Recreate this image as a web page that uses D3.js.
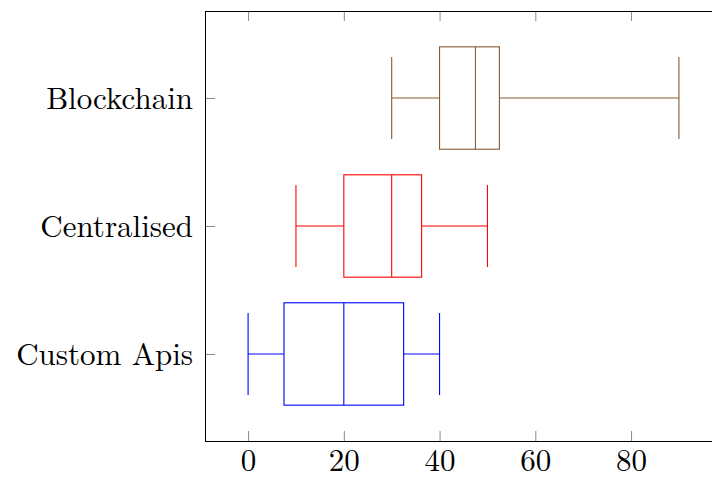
<!DOCTYPE html>
<html>
<head>
<meta charset="utf-8">
<script src="https://cdn.jsdelivr.net/npm/d3@7"></script>
<style>
  html, body { margin: 0; padding: 0; background: #fff; }
  svg { display: block; }
</style>
</head>
<body>
<svg id="chart" width="712" height="479"></svg>
<script>
// Categories (bottom to top, at positions 1..3)
const categories = ["Custom Apis", "Centralised", "Blockchain"];
const positions = [1, 2, 3];
const colors = ["#0000ff", "#ff0000", "#845c35"];
// Box plot statistics per category
const lowerWhisker = [0, 10, 30];
const lowerQuartile = [7.5, 20, 40];
const median = [20, 30, 47.5];
const upperQuartile = [32.5, 36.25, 52.5];
const upperWhisker = [40, 50, 90];
const xTicks = [0, 20, 40, 60, 80];

const svg = d3.select("#chart");
const mLeft = 205, mRight = 722, mTop = 11, mBottom = 441;

const x = d3.scaleLinear().domain([-9, 99]).range([mLeft, mRight]);
const y = d3.scaleLinear().domain([0.32, 3.68]).range([mBottom, mTop]);

const boxHalf = 0.4, whiskerHalf = 0.32;
const fontFam = "'Latin Modern Roman', 'Liberation Serif', serif";
const fontSize = "31px";

// Ticks
const tickColor = "#8a8a8a";
const xb = svg.append("g").attr("transform", `translate(0,${mBottom})`)
  .call(d3.axisBottom(x).tickValues(xTicks).tickSizeInner(-10).tickSizeOuter(0).tickPadding(8).tickFormat(d3.format("d")));
xb.attr("font-family", fontFam).attr("font-size", fontSize);
xb.select(".domain").remove();
xb.selectAll(".tick line").attr("stroke", tickColor);
xb.selectAll(".tick text").style("font-family", fontFam).style("font-size", fontSize).attr("fill", "#000");

const xt = svg.append("g").attr("transform", `translate(0,${mTop})`)
  .call(d3.axisTop(x).tickValues(xTicks).tickSizeInner(-10).tickSizeOuter(0).tickFormat(""));
xt.select(".domain").remove();
xt.selectAll(".tick line").attr("stroke", tickColor);

const yl = svg.append("g").attr("transform", `translate(${mLeft},0)`)
  .call(d3.axisLeft(y).tickValues(positions).tickSizeInner(-10).tickSizeOuter(0).tickPadding(12)
    .tickFormat((d, i) => categories[i]));
yl.attr("font-family", fontFam).attr("font-size", fontSize);
yl.select(".domain").remove();
yl.selectAll(".tick line").attr("stroke", tickColor);
yl.selectAll(".tick text").style("font-family", fontFam).style("font-size", fontSize)
  .attr("dy", "0.35em").attr("fill", "#000");

const yr = svg.append("g").attr("transform", `translate(${mRight},0)`)
  .call(d3.axisRight(y).tickValues(positions).tickSizeInner(-10).tickSizeOuter(0).tickFormat(""));
yr.select(".domain").remove();
yr.selectAll(".tick line").attr("stroke", tickColor);

// Frame
svg.append("rect")
  .attr("x", mLeft + 0.5).attr("y", mTop + 0.5)
  .attr("width", mRight - mLeft).attr("height", mBottom - mTop)
  .attr("fill", "none").attr("stroke", "#000").attr("stroke-width", 1);

// Boxes
const data = categories.map((c, i) => ({
  c, p: positions[i], col: colors[i],
  lw: lowerWhisker[i], q1: lowerQuartile[i], med: median[i], q3: upperQuartile[i], uw: upperWhisker[i]
}));

const g = svg.append("g").attr("fill", "none").attr("stroke-width", 1.1);
data.forEach(d => {
  const s = g.append("g").attr("stroke", d.col);
  s.append("line").attr("x1", x(d.lw)).attr("x2", x(d.q1)).attr("y1", y(d.p)).attr("y2", y(d.p));
  s.append("line").attr("x1", x(d.q3)).attr("x2", x(d.uw)).attr("y1", y(d.p)).attr("y2", y(d.p));
  s.append("line").attr("x1", x(d.lw)).attr("x2", x(d.lw)).attr("y1", y(d.p - whiskerHalf)).attr("y2", y(d.p + whiskerHalf));
  s.append("line").attr("x1", x(d.uw)).attr("x2", x(d.uw)).attr("y1", y(d.p - whiskerHalf)).attr("y2", y(d.p + whiskerHalf));
  s.append("rect").attr("x", x(d.q1)).attr("y", y(d.p + boxHalf))
    .attr("width", x(d.q3) - x(d.q1)).attr("height", y(d.p - boxHalf) - y(d.p + boxHalf));
  s.append("line").attr("x1", x(d.med)).attr("x2", x(d.med)).attr("y1", y(d.p - boxHalf)).attr("y2", y(d.p + boxHalf));
});
</script>
</body>
</html>
